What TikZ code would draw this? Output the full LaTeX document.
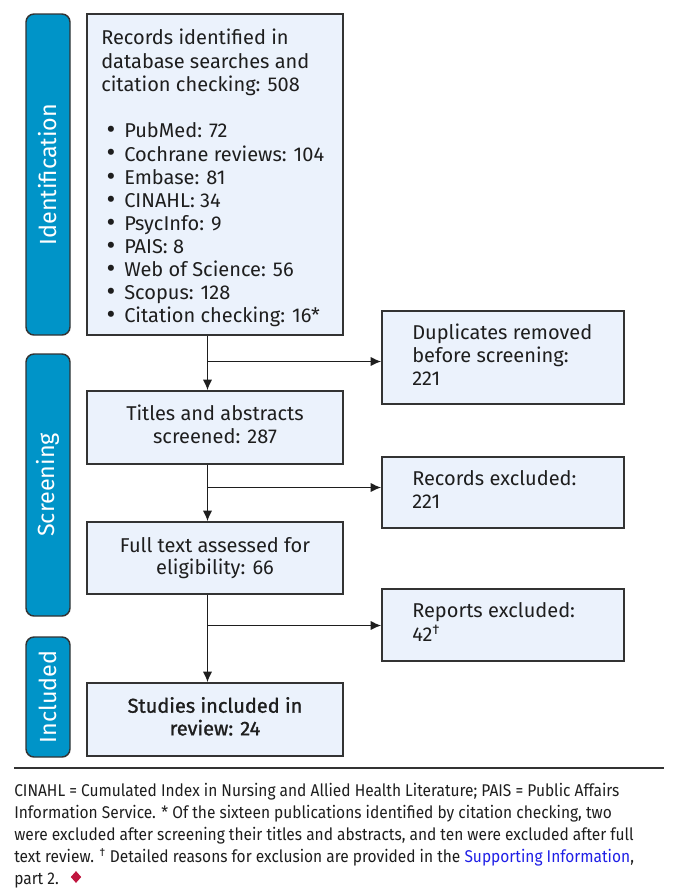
\documentclass[tikz,border=0pt]{standalone}
\usepackage{fontspec}
\usepackage{graphicx}
\setmainfont[Numbers=Proportional]{Fira Sans}
\newfontfamily\notefont[FakeStretch=0.912,Numbers=Proportional]{Fira Sans}
\newfontfamily\semibold[FakeBold=1.2,Numbers=Proportional]{Fira Sans}
\usetikzlibrary{arrows.meta,fit,shapes.geometric}
\definecolor{barblue}{HTML}{0094C8}
\definecolor{boxfill}{HTML}{EBF2FC}
\definecolor{edge}{HTML}{333333}
\definecolor{ink}{HTML}{1E1E1E}
\definecolor{linkblue}{HTML}{1F1FE6}
\definecolor{diamondred}{HTML}{C0163F}
\newcommand\bul{\makebox[17.25pt][l]{\hspace{4pt}\raisebox{-0.7pt}{\scalebox{1.35}{\textbullet}}}}
\begin{document}
\begin{tikzpicture}[x=0.75pt,y=-0.75pt,
  bar/.style={draw=edge, line width=1.1pt, fill=barblue, rounded corners=6pt, inner sep=0pt},
  box/.style={draw=edge, line width=1.1pt, fill=boxfill, inner sep=0pt},
  barlabel/.style={rotate=90, text=white, font=\fontsize{17.5pt}{20pt}\selectfont, inner sep=0pt},
  txt/.style={font=\fontsize{15pt}{17pt}\selectfont, inner sep=0pt, text=ink},
  note/.style={font=\notefont\fontsize{12.75pt}{16.4pt}\selectfont, inner sep=0pt, text=ink, align=left},
  arr/.style={draw=ink, line width=1.1pt, -{Latex[length=8pt,width=7pt]}},
]
\useasboundingbox (0,0) rectangle (678,890);

% phase bars
\node[bar, fit={(26,14) (70,335)}] (idbar) {};
\node[bar, fit={(26,354) (70,616)}] (scrbar) {};
\node[bar, fit={(26,637) (70,757)}] (incbar) {};
\node[barlabel] (idlab) at (idbar.center) {Identification};
\node[barlabel] (scrlab) at (scrbar.center) {Screening};
\node[barlabel] (inclab) at (incbar.center) {Included};

% boxes
\node[box, fit={(87,14) (343,335)}] (rec) {};
\node[txt, align=left, anchor=north west, font=\fontsize{15pt}{17.35pt}\selectfont] (rectext) at (101,28.5) {%
\strut Records identified in\\
\strut database searches and\\
\strut citation checking: 508\\[17.65pt]
\strut\bul PubMed: 72\\
\strut\bul Cochrane reviews: 104\\
\strut\bul Embase: 81\\
\strut\bul CINAHL: 34\\
\strut\bul PsycInfo: 9\\
\strut\bul PAIS: 8\\
\strut\bul Web of Science: 56\\
\strut\bul Scopus: 128\\
\strut\bul Citation checking: 16*};

\node[box, fit={(382,311) (624,404)}] (dup) {};
\node[txt, align=left, anchor=west] (duptext) at (412,358) {\strut Duplicates removed\\\strut before screening:\\\strut 221};

\node[box, fit={(87,391) (343,464)}] (tit) {};
\node[txt, align=center] (tittext) at (tit.center) {\strut Titles and abstracts\\\strut screened: 287};

\node[box, fit={(382,457) (624,528)}] (rex) {};
\node[txt, align=left, anchor=west] (rextext) at (412,492.5) {\strut Records excluded:\\\strut 221};

\node[box, fit={(87,522) (343,594)}] (ful) {};
\node[txt, align=center] (fultext) at ([yshift=-0.75pt]ful.center) {\strut Full text assessed for\\\strut eligibility: 66};

\node[box, fit={(382,589) (624,661)}] (rep) {};
\node[txt, align=left, anchor=west] (reptext) at (412,625) {\strut Reports excluded:\\\strut 42\textsuperscript{†}};

\node[box, fit={(87,683) (343,756)}] (stu) {};
\node[txt, align=center, font=\semibold\fontsize{15pt}{17pt}\selectfont] (stutext) at (stu.center) {\strut Studies included in\\\strut review: 24};

% connectors
\coordinate (ax) at (207.5,0);
\coordinate (b1) at (207.5,361.5);
\coordinate (b2) at (207.5,487.5);
\coordinate (b3) at (207.5,625.5);
\draw[arr] (rec.south -| ax) -- (tit.north -| ax);
\draw[arr] (b1) -- (b1 -| dup.west);
\draw[arr] (tit.south -| ax) -- (ful.north -| ax);
\draw[arr] (b2) -- (b2 -| rex.west);
\draw[arr] (ful.south -| ax) -- (stu.north -| ax);
\draw[arr] (b3) -- (b3 -| rep.west);

% footnote
\draw[draw=edge, line width=1pt] (14,768) -- (664,768);
\node[note, anchor=north west] (foot) at (14,783) {%
CINAHL = Cumulated Index in Nursing and Allied Health Literature; PAIS = Public Affairs\\
Information Service. * Of the sixteen publications identified by citation checking, two\\
were excluded after screening their titles and abstracts, and ten were excluded after full\\
text review. \textsuperscript{†} Detailed reasons for exclusion are provided in the \textcolor{linkblue}{Supporting Information},\\
part 2.};
\node[diamond, fill=diamondred, inner sep=0pt, minimum width=8pt, minimum height=9pt] (mark) at (76,877) {};
\end{tikzpicture}
\end{document}
